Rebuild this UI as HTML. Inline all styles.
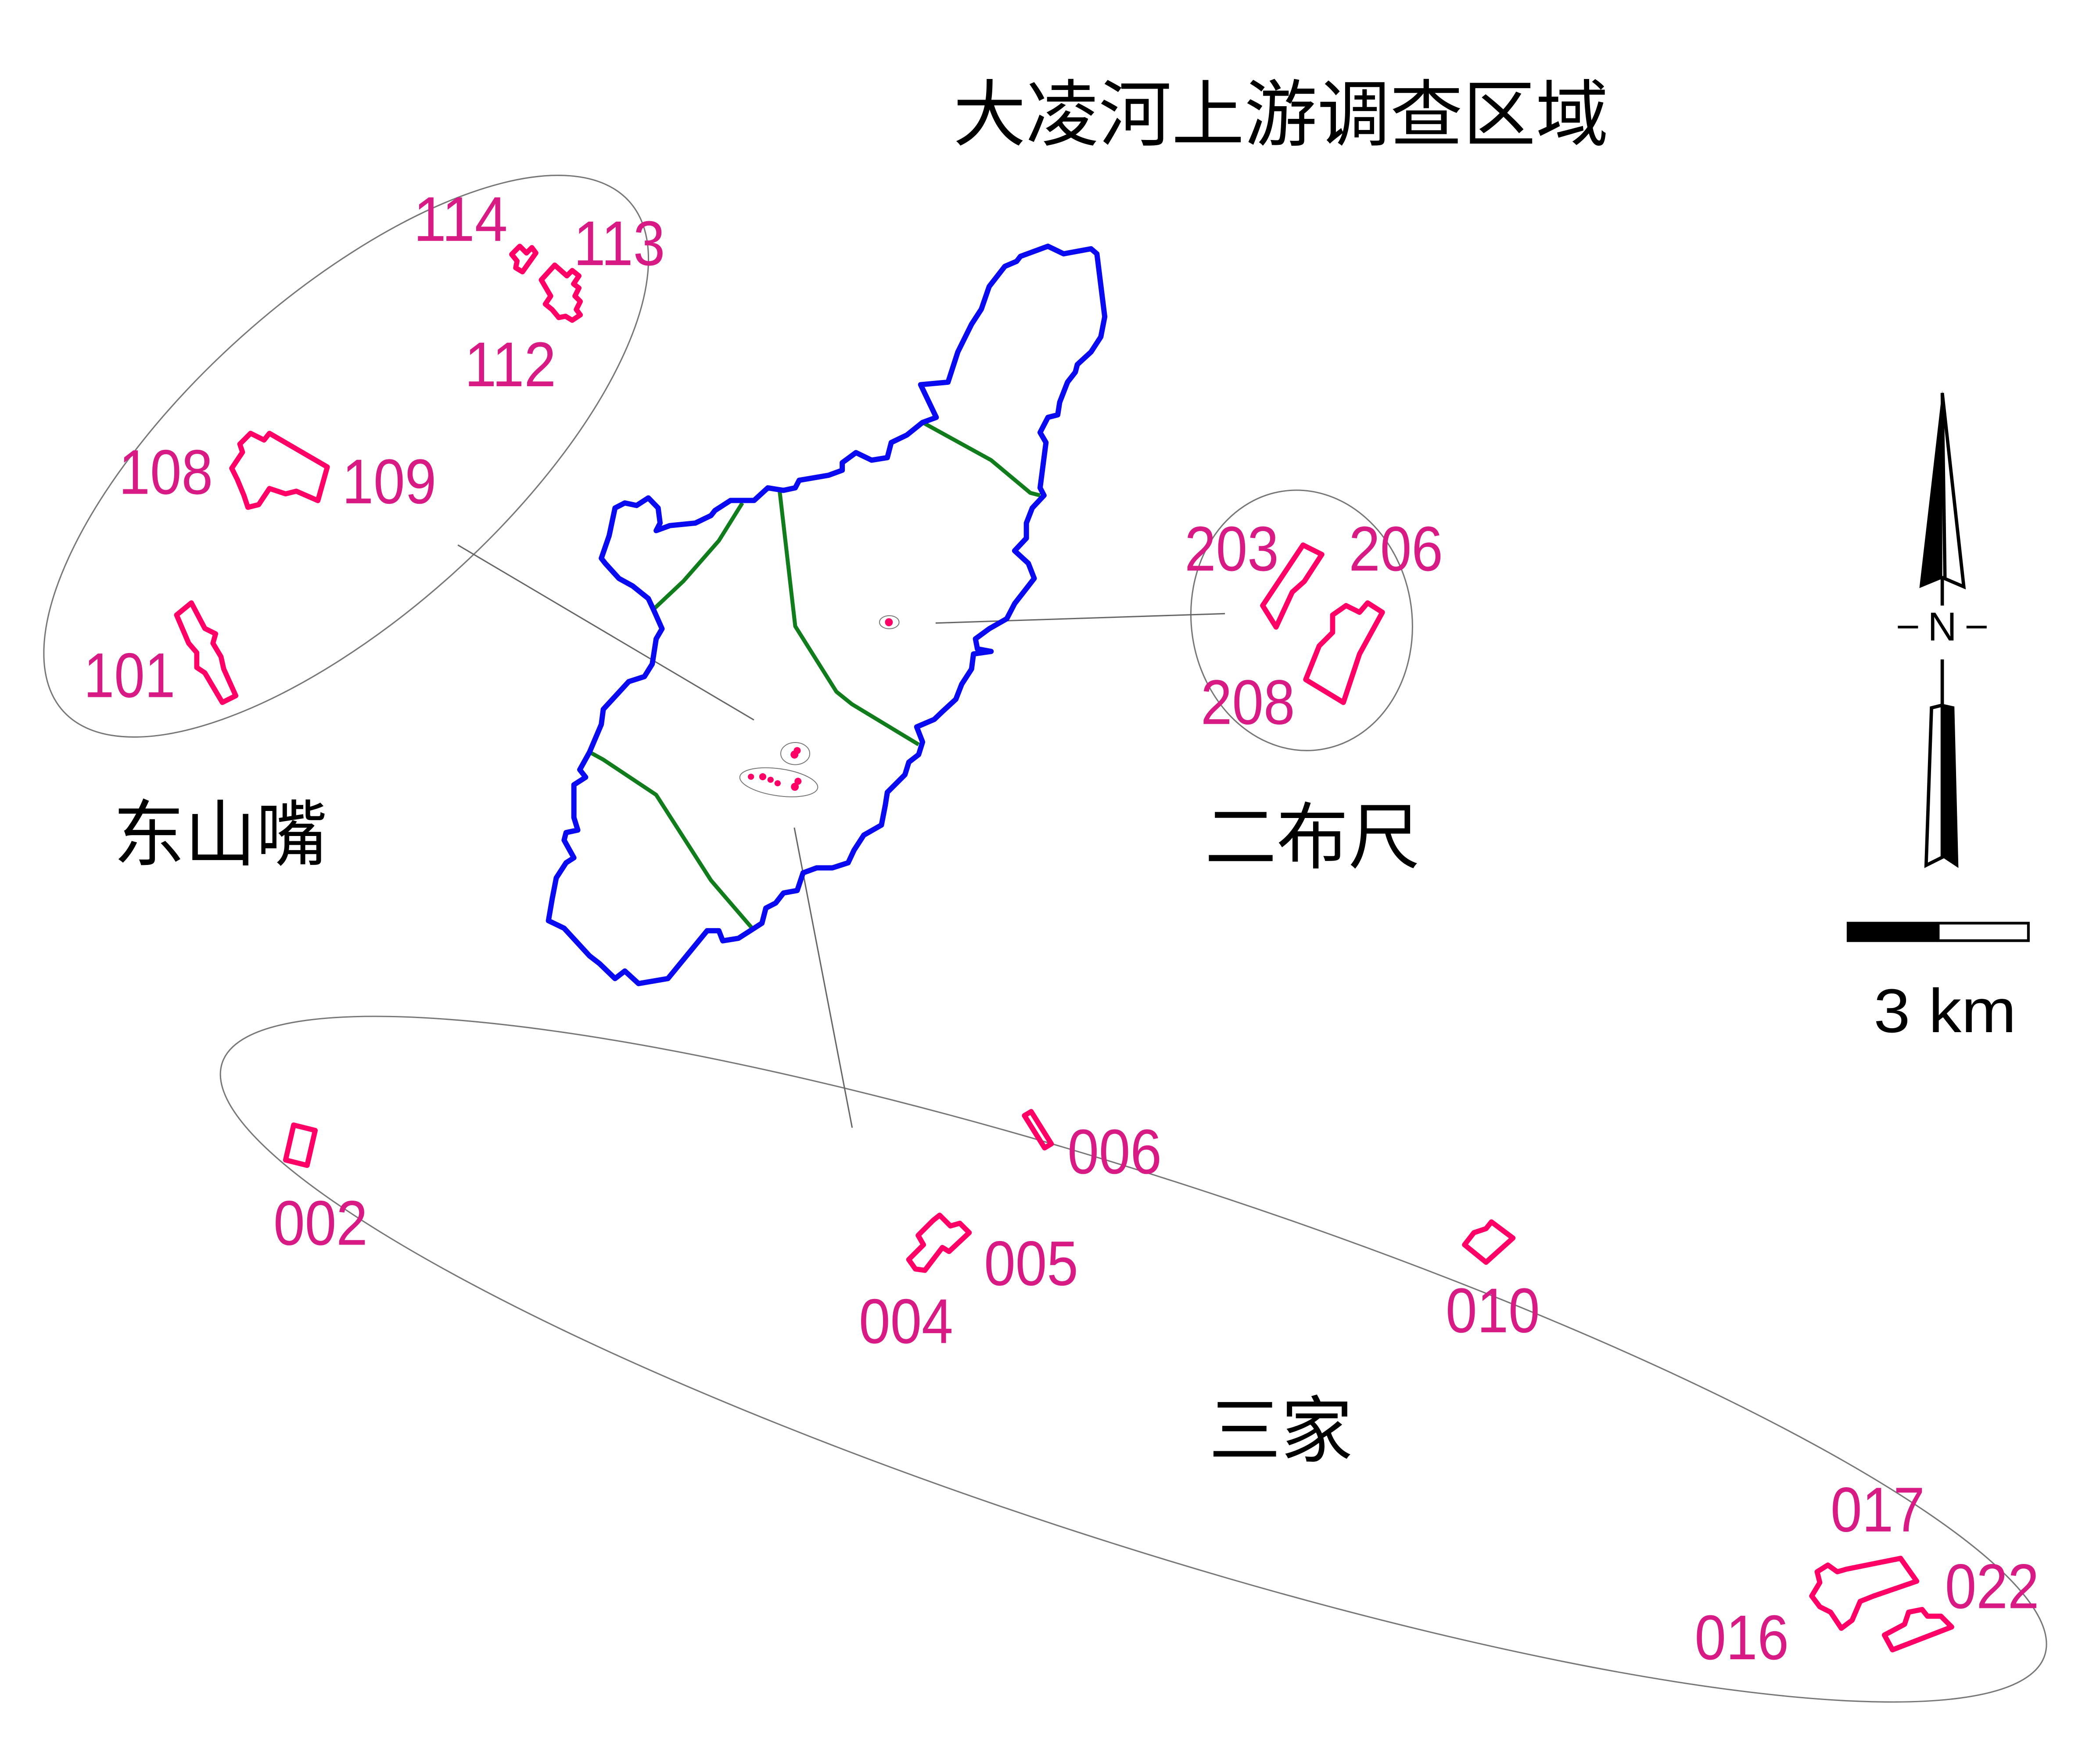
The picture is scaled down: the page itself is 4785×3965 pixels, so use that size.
<!DOCTYPE html>
<html><head><meta charset="utf-8"><style>
html,body{margin:0;padding:0;background:#fff;overflow:hidden;width:4785px;height:3965px;}
svg{position:absolute;left:0;top:0;display:block;}
.lb{font-family:"Liberation Sans","Noto Sans CJK SC",sans-serif;fill:#d81b84;font-size:47px;}
.cn{font-family:"Liberation Sans","Noto Sans CJK SC",sans-serif;fill:#000;font-size:54px;}
.st{fill:none;stroke:#ff0066;stroke-width:3.8;stroke-linejoin:round;}
</style></head><body>
<svg width="4785" height="3965" viewBox="0 0 1560 1293" xmlns="http://www.w3.org/2000/svg">
<rect width="1560" height="1293" fill="#fff"/>
<ellipse cx="257" cy="339" rx="283" ry="118" transform="rotate(-42 257 339)" fill="none" stroke="#777" stroke-width="1"/>
<ellipse cx="967" cy="461" rx="82" ry="97" transform="rotate(-8 967 461)" fill="none" stroke="#777" stroke-width="1"/>
<ellipse cx="842" cy="1010" rx="712" ry="135" transform="rotate(18 842 1010)" fill="none" stroke="#777" stroke-width="1"/>
<g stroke="#666" stroke-width="1">
<line x1="340" y1="405" x2="560" y2="535"/>
<line x1="590" y1="615" x2="633" y2="838"/>
<line x1="695" y1="463" x2="910" y2="456"/>
</g>
<g transform="translate(391.3,164.3) scale(0.2911,0.374)">
<g fill="none" stroke="#107c1c" stroke-width="9" stroke-linejoin="round">
<polyline vector-effect="non-scaling-stroke" points="1010,400 1185,475 1285,540 1310,545"/>
<polyline vector-effect="non-scaling-stroke" points="645,535 685,805 790,935 830,960 1000,1040"/>
<polyline vector-effect="non-scaling-stroke" points="550,560 490,635 400,715 325,770"/>
<polyline vector-effect="non-scaling-stroke" points="160,1055 195,1070 330,1140 470,1310 575,1405"/>
</g>
<polygon fill="none" stroke="#0a0af0" stroke-width="12" vector-effect="non-scaling-stroke" stroke-linejoin="round" points="1260,70 1330,50 1370,65 1440,55 1455,65 1475,190 1465,230 1440,260 1405,285 1400,300 1380,320 1360,360 1355,385 1330,390 1310,420 1325,440 1315,500 1310,530 1320,545 1290,570 1275,600 1275,630 1245,655 1280,680 1295,710 1270,735 1245,760 1225,790 1180,810 1145,830 1150,850 1185,855 1140,860 1135,890 1110,920 1095,950 1060,975 1040,990 995,1005 1010,1035 1000,1060 975,1075 965,1100 920,1135 915,1160 905,1200 860,1220 835,1250 820,1275 780,1285 740,1285 705,1295 690,1330 655,1335 635,1355 610,1365 600,1395 570,1410 540,1425 500,1430 490,1410 460,1410 360,1505 285,1515 250,1490 225,1505 185,1475 160,1460 95,1405 55,1390 65,1345 75,1305 100,1275 120,1265 95,1230 100,1215 130,1210 120,1185 120,1160 120,1120 150,1105 135,1090 160,1055 190,1000 195,970 260,915 300,905 320,880 330,830 345,810 325,775 310,750 270,725 235,710 200,680 190,670 210,625 225,570 250,560 280,565 310,550 335,570 340,600 330,615 365,605 430,600 470,585 480,575 520,555 580,555 615,530 655,535 685,530 695,515 770,505 805,495 805,480 840,460 880,475 920,470 930,440 970,425 1010,400 1045,390 1005,325 1075,320 1100,260 1135,205 1160,175 1180,130 1220,90 1250,80"/>
<ellipse cx="925" cy="797" rx="25" ry="13" fill="none" stroke="#777" stroke-width="2" vector-effect="non-scaling-stroke"/>
<ellipse cx="685" cy="1058" rx="37" ry="22" fill="none" stroke="#777" stroke-width="2" vector-effect="non-scaling-stroke"/>
<ellipse cx="643" cy="1115" rx="100" ry="27" transform="rotate(6 643 1115)" fill="none" stroke="#777" stroke-width="2" vector-effect="non-scaling-stroke"/>
<g fill="#ff0066">
<ellipse cx="924" cy="797" rx="10" ry="8"/>
<ellipse cx="683" cy="1060" rx="10" ry="8"/><ellipse cx="690" cy="1052" rx="9" ry="7"/>
<ellipse cx="572" cy="1104" rx="8" ry="6"/><ellipse cx="602" cy="1104" rx="9" ry="7"/><ellipse cx="622" cy="1110" rx="8" ry="6"/><ellipse cx="640" cy="1117" rx="8" ry="6"/>
<ellipse cx="684" cy="1124" rx="10" ry="8"/><ellipse cx="692" cy="1113" rx="9" ry="7"/>
</g>
</g>
<g class="st">
<polygon points="380,189 386,183 391,188 395,184 398,188 388,202 383,199 384,194"/>
<polygon points="402,208 412,197 421,205 425,201 430,205 426,211 430,214 427,220 431,224 428,230 431,234 425,238 420,235 415,236 410,230 405,226 409,220"/>
<polygon points="172,348 180,336 178,330 186,322 196,327 200,322 243,347 236,372 220,365 212,367 200,363 192,375 184,377 181,368 176,356"/>
<polygon points="131,457 142,448 152,467 160,471 158,478 164,488 166,497 175,517 165,522 152,500 146,496 146,485 140,478"/>
<polygon points="938,450 968,405 982,412 969,432 960,440 948,466"/>
<polygon points="990,457 1000,450 1010,455 1016,448 1027,455 1010,486 998,522 970,505 980,480 990,470"/>
<polygon points="212,862 218,836 234,840 228,866"/>
<polygon points="761,829 766,826 781,850 776,853"/>
<polygon points="675,936 686,925 682,918 693,907 698,903 706,911 713,909 720,916 705,930 700,927 687,944 680,943"/>
<polygon points="1088,925 1095,916 1104,913 1108,908 1124,920 1104,938"/>
<polygon points="1346,1186 1352,1176 1350,1168 1358,1163 1365,1168 1372,1166 1412,1158 1424,1175 1392,1186 1382,1190 1376,1204 1368,1210 1360,1198 1352,1194"/>
<polygon points="1400,1215 1415,1207 1418,1198 1428,1196 1432,1201 1442,1201 1450,1209 1406,1226"/>
</g>
<g class="lb">
<text x="307" y="179" textLength="70" lengthAdjust="spacingAndGlyphs">114</text>
<text x="426" y="197" textLength="68" lengthAdjust="spacingAndGlyphs">113</text>
<text x="345" y="287" textLength="68" lengthAdjust="spacingAndGlyphs">112</text>
<text x="88" y="367" textLength="70" lengthAdjust="spacingAndGlyphs">108</text>
<text x="254" y="374" textLength="70" lengthAdjust="spacingAndGlyphs">109</text>
<text x="62" y="518" textLength="68" lengthAdjust="spacingAndGlyphs">101</text>
<text x="880" y="424" textLength="70" lengthAdjust="spacingAndGlyphs">203</text>
<text x="1002" y="424" textLength="70" lengthAdjust="spacingAndGlyphs">206</text>
<text x="892" y="538" textLength="70" lengthAdjust="spacingAndGlyphs">208</text>
<text x="203" y="925" textLength="70" lengthAdjust="spacingAndGlyphs">002</text>
<text x="793" y="872" textLength="70" lengthAdjust="spacingAndGlyphs">006</text>
<text x="731" y="955" textLength="70" lengthAdjust="spacingAndGlyphs">005</text>
<text x="638" y="998" textLength="70" lengthAdjust="spacingAndGlyphs">004</text>
<text x="1074" y="990" textLength="70" lengthAdjust="spacingAndGlyphs">010</text>
<text x="1360" y="1138" textLength="70" lengthAdjust="spacingAndGlyphs">017</text>
<text x="1445" y="1195" textLength="70" lengthAdjust="spacingAndGlyphs">022</text>
<text x="1259" y="1233" textLength="70" lengthAdjust="spacingAndGlyphs">016</text>
</g>
<g class="cn">
<text x="708" y="104" textLength="487" lengthAdjust="spacingAndGlyphs">大凌河上游调查区域</text>
<text x="84" y="639" textLength="159" lengthAdjust="spacingAndGlyphs">东山嘴</text>
<text x="895" y="641" textLength="160" lengthAdjust="spacingAndGlyphs">二布尺</text>
<text x="898" y="1082" textLength="107" lengthAdjust="spacingAndGlyphs">三家</text>
</g>
<polygon points="1443,290 1426,437 1443,430" fill="#000"/>
<polygon points="1443,292 1459,436 1445,430" fill="#fff" stroke="#000" stroke-width="2.5"/>
<line x1="1443" y1="428" x2="1443" y2="450" stroke="#000" stroke-width="2.5"/>
<text x="1443" y="476" text-anchor="middle" font-family="Liberation Sans, sans-serif" font-size="30" fill="#000">N</text>
<line x1="1410" y1="466" x2="1425" y2="466" stroke="#000" stroke-width="2"/>
<line x1="1461" y1="466" x2="1476" y2="466" stroke="#000" stroke-width="2"/>
<line x1="1443" y1="490" x2="1443" y2="525" stroke="#000" stroke-width="2.5"/>
<polygon points="1443,523 1452,525 1455,645 1443,637" fill="#000"/>
<polygon points="1443,524 1435,526 1431,643 1443,637" fill="#fff" stroke="#000" stroke-width="2.5"/>
<rect x="1372" y="685" width="68" height="15" fill="#000"/>
<rect x="1440" y="686" width="67" height="13" fill="#fff" stroke="#000" stroke-width="2"/>
<text x="1392" y="767" font-family="Liberation Sans, sans-serif" font-size="46" fill="#000" textLength="106" lengthAdjust="spacingAndGlyphs">3 km</text>
</svg>
</body></html>
